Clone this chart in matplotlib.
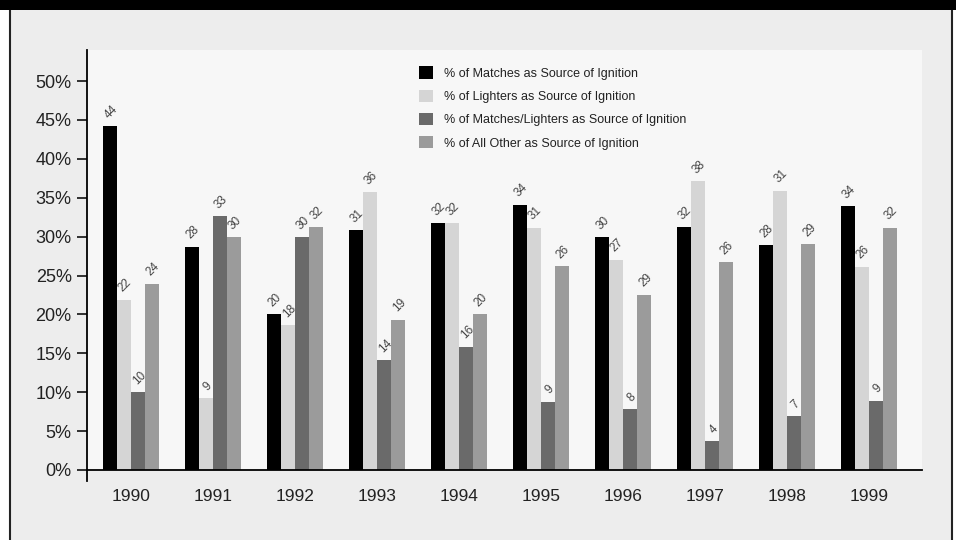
import numpy as np
import matplotlib.pyplot as plt
from matplotlib.patches import Rectangle

plt.rcParams['font.family'] = ['Liberation Sans Narrow', 'Liberation Sans', 'DejaVu Sans']

years = ['1990', '1991', '1992', '1993', '1994', '1995', '1996', '1997', '1998', '1999']
series_names = ['% of Matches as Source of Ignition',
                '% of Lighters as Source of Ignition',
                '% of Matches/Lighters as Source of Ignition',
                '% of All Other as Source of Ignition']

# bar heights (%)
matches = [44.2, 28.7, 20.0, 30.8, 31.7, 34.1, 29.9, 31.2, 28.9, 33.9]
lighters = [21.9, 9.2, 18.6, 35.7, 31.7, 31.1, 27.0, 37.1, 35.9, 26.1]
both = [10.0, 32.6, 29.9, 14.1, 15.8, 8.8, 7.8, 3.7, 6.9, 8.9]
other = [23.9, 29.9, 31.2, 19.3, 20.0, 26.2, 22.5, 26.7, 29.0, 31.1]

# value labels as printed on the chart
matches_lbl = [44, 28, 20, 31, 32, 34, 30, 32, 28, 34]
lighters_lbl = [22, 9, 18, 36, 32, 31, 27, 38, 31, 26]
both_lbl = [10, 33, 30, 14, 16, 9, 8, 4, 7, 9]
other_lbl = [24, 30, 32, 19, 20, 26, 29, 26, 29, 32]

colors = ['#000000', '#d5d5d5', '#6a6a6a', '#9b9b9b']
W, H = 956, 540

fig = plt.figure(figsize=(W / 100, H / 100), dpi=100, facecolor='white')

# outer panel + black header strip
fig.patches.append(Rectangle((9.5 / W, -0.05), (952 - 9.5) / W, 1.1, transform=fig.transFigure,
                             facecolor='#ededed', edgecolor='#222222', linewidth=1.5, zorder=-2))
fig.patches.append(Rectangle((0, 1 - 9.5 / H), 1, 9.5 / H, transform=fig.transFigure,
                             facecolor='black', edgecolor='none', zorder=-1))

ax = fig.add_axes([87 / W, (H - 470) / H, (922 - 87) / W, 420 / H])
ax.set_zorder(1)
ax.set_facecolor('#f7f7f7')

x = np.arange(len(years))
bw = 0.171
data = [matches, lighters, both, other]
labels = [matches_lbl, lighters_lbl, both_lbl, other_lbl]
for i, (vals, lbls) in enumerate(zip(data, labels)):
    xs = x + (i - 1.5) * bw
    ax.bar(xs, vals, width=bw, color=colors[i], label=series_names[i], zorder=2)
    for xx, v, l in zip(xs, vals, lbls):
        ax.annotate(str(l), (xx, v), xytext=(1, 4), textcoords='offset points',
                    ha='center', va='bottom', rotation=45, fontsize=8.5, color='#444444')

ax.set_xlim(-0.537, 9.646)
ax.set_ylim(0, 54)
ax.set_yticks(np.arange(0, 51, 5))
ax.set_yticklabels([f'{v}%' for v in range(0, 51, 5)])
ax.set_xticks(x)
ax.set_xticklabels(years)

for s in ['top', 'right']:
    ax.spines[s].set_visible(False)
ax.spines['left'].set_linewidth(1.3)
ax.spines['bottom'].set_linewidth(1.3)
ax.tick_params(axis='y', length=7, width=1.3, direction='out', labelsize=13, colors='#222222', pad=4)
ax.tick_params(axis='x', length=0, labelsize=12.5, colors='#222222', pad=14)
# left axis line runs a little below the zero line
ax.plot([0, 0], [0, -11 / 420], transform=ax.transAxes, color='black', lw=1.3, clip_on=False)

ax.legend(loc='upper left', bbox_to_anchor=(0.3915, 0.973), frameon=False, fontsize=9,
          handlelength=1.12, handleheight=1.12, labelspacing=0.8, handletextpad=0.88,
          borderaxespad=0, labelcolor='#222222')

fig.savefig('out.png', dpi=100, facecolor='white')
